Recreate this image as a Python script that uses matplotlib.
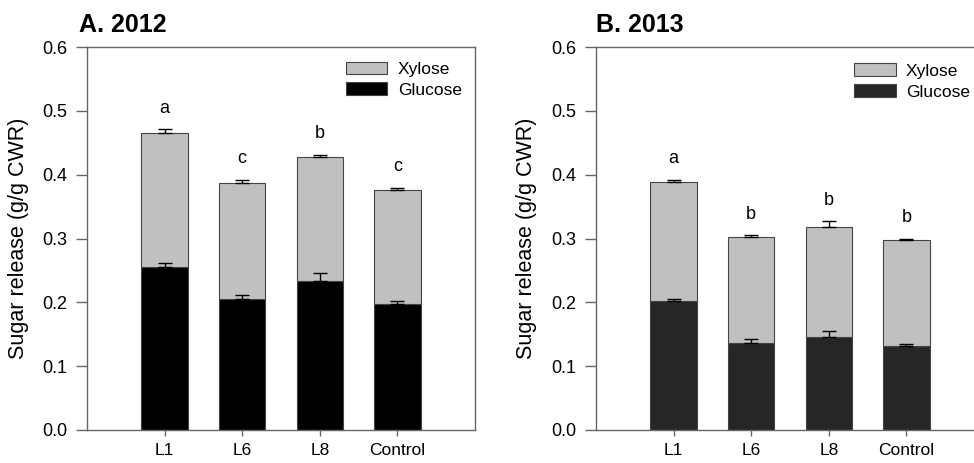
import matplotlib
matplotlib.use("Agg")
import matplotlib.pyplot as plt
import numpy as np

plt.rcParams['font.family'] = ['Liberation Sans', 'DejaVu Sans']

categories = ["L1", "L6", "L8", "Control"]

# Panel A (2012)
glucose_2012 = [0.256, 0.206, 0.234, 0.198]
glucose_err_2012 = [0.006, 0.005, 0.012, 0.004]
total_2012 = [0.466, 0.387, 0.427, 0.376]
total_err_2012 = [0.005, 0.005, 0.004, 0.003]
letters_2012 = ["a", "c", "b", "c"]

# Panel B (2013)
glucose_2013 = [0.202, 0.137, 0.146, 0.131]
glucose_err_2013 = [0.004, 0.005, 0.009, 0.004]
total_2013 = [0.388, 0.302, 0.318, 0.297]
total_err_2013 = [0.004, 0.003, 0.009, 0.003]
letters_2013 = ["a", "b", "b", "b"]

yticks = [0.0, 0.1, 0.2, 0.3, 0.4, 0.5, 0.6]

W, H = 974, 463
fig = plt.figure(figsize=(W / 100, H / 100), dpi=100)

def px_axes(left, top, right, bottom):
    return [left / W, 1 - bottom / H, (right - left) / W, (bottom - top) / H]

spine_col = "#666666"
edge_col = "#444444"
xyl_col = "#c0c0c0"


def panel(rect, title, title_x, glucose, g_err, total, t_err, letters, gcol,
          leg_anchor, ylab_x):
    ax = fig.add_axes(rect)
    x = np.arange(1, len(categories) + 1)
    xylose = [t - g for t, g in zip(total, glucose)]
    ax.bar(x, glucose, width=0.6, color=gcol, edgecolor=edge_col, linewidth=0.8,
           label="Glucose", zorder=2)
    ax.bar(x, xylose, width=0.6, bottom=glucose, color=xyl_col, edgecolor=edge_col,
           linewidth=0.8, label="Xylose", zorder=2)
    zeros = [0] * len(x)
    ax.errorbar(x, glucose, yerr=[zeros, g_err], fmt="none", ecolor="black",
                elinewidth=1, capsize=5, capthick=1, zorder=3)
    ax.errorbar(x, total, yerr=[zeros, t_err], fmt="none", ecolor="black",
                elinewidth=1, capsize=5, capthick=1, zorder=3)
    for xi, t, e, lab in zip(x, total, t_err, letters):
        ax.annotate(lab, (xi, t + e), xytext=(0, 12), textcoords="offset points",
                    ha="center", va="baseline", fontsize=13)
    ax.set_xlim(0, 5)
    ax.set_ylim(0, 0.6)
    ax.set_xticks(x)
    ax.set_xticklabels(categories, fontsize=12.5)
    ax.set_yticks(yticks)
    ax.set_yticklabels([f"{v:.1f}" for v in yticks], fontsize=13)
    ax.tick_params(axis="y", direction="out", length=8, width=1, color=spine_col, pad=6)
    ax.tick_params(axis="x", direction="out", length=4, width=1, color=spine_col, pad=5.5)
    for s in ax.spines.values():
        s.set_color(spine_col)
        s.set_linewidth(1)
    ax.set_ylabel("Sugar release (g/g CWR)", fontsize=15.5)
    ax.yaxis.set_label_coords(ylab_x, 0.5)
    h, l = ax.get_legend_handles_labels()
    ax.legend(h[::-1], l[::-1], loc="upper left", bbox_to_anchor=leg_anchor,
              frameon=False, fontsize=12.5, handlelength=2.4, handleheight=0.75,
              handletextpad=0.6, labelspacing=0.3, borderaxespad=0, borderpad=0)
    fig.text(title_x / W, 1 - 25 / H, title, fontsize=18, fontweight="bold",
             ha="left", va="center")
    return ax

panel(px_axes(87, 47, 475, 430), "A. 2012", 79, glucose_2012, glucose_err_2012,
      total_2012, total_err_2012, letters_2012, "black", (0.667, 0.962), -0.149)
panel(px_axes(596, 47, 984, 430), "B. 2013", 596, glucose_2013, glucose_err_2013,
      total_2013, total_err_2013, letters_2013, "#262626", (0.665, 0.957), -0.152)

fig.savefig("out.png", dpi=100)
